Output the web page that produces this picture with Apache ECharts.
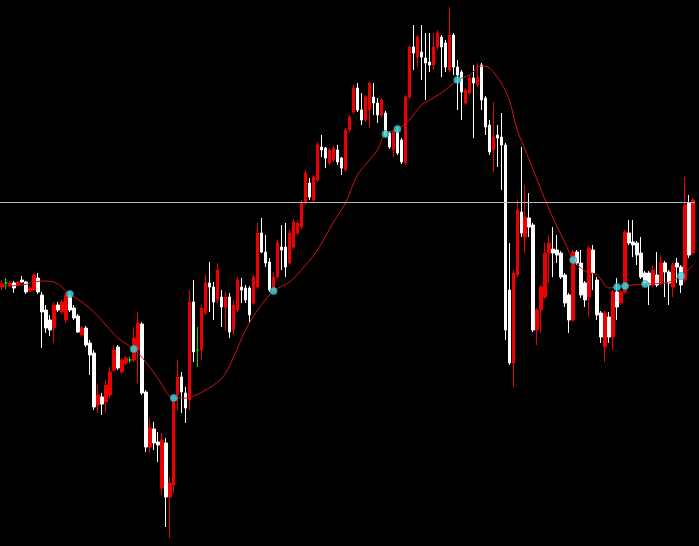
<!DOCTYPE html>
<html>
<head>
<meta charset="utf-8">
<script src="https://cdn.jsdelivr.net/npm/echarts@6/dist/echarts.min.js"></script>
<style>
html,body{margin:0;padding:0;background:#000;}
#chart{width:699px;height:546px;}
</style>
</head>
<body>
<div id="chart"></div>
<script>
const open = [
713,717,715,717,715,720,718,709,710,722,
705,690,680,672,695,688,680,704,692,684,
665,672,657,647,595,603,598,605,630,653,
628,637,640,640,650,676,608,553,571,558,
512,557,503,515,605,623,607,600,698,650,
650,687,717,713,700,703,692,703,670,690,
713,712,712,697,713,767,748,738,710,723,
753,753,737,753,767,773,797,817,800,820,
853,852,837,840,850,842,830,870,888,912,
890,880,890,903,897,885,887,867,850,868,
860,837,903,953,943,948,942,938,935,953,
963,957,930,965,933,928,897,907,922,915,
935,902,875,850,865,863,855,710,637,725,
788,763,782,775,670,690,703,747,751,750,
747,725,705,680,748,737,717,703,750,720,
687,653,683,663,708,697,708,767,758,757,
747,727,727,715,725,717,737,728,713,737,
733,720,797,747];
const close = [
716,717,717,712,718,718,708,712,725,708,
688,672,670,695,690,698,705,690,682,668,
672,655,645,593,605,596,615,628,650,632,
640,642,640,662,677,607,553,572,557,555,
560,503,517,600,623,608,592,698,648,650,
692,717,713,698,730,693,703,668,695,720,
710,700,685,723,767,748,737,710,723,757,
750,733,767,778,777,797,827,803,823,855,
850,842,850,852,838,832,870,883,912,890,
880,903,917,897,885,900,865,853,868,847,
838,903,953,947,963,943,937,935,953,967,
953,933,965,933,925,908,910,922,917,923,
900,873,848,863,862,855,670,637,727,790,
767,783,773,670,690,713,747,757,747,745,
723,697,680,748,737,705,700,752,727,685,
663,687,663,708,693,708,768,757,755,745,
723,717,715,730,715,737,728,717,735,733,
715,795,745,800];
const low = [
710,711,713,707,714,717,706,708,709,706,
652,667,664,657,688,686,677,688,680,667,
663,653,625,590,587,585,587,602,628,630,
626,635,637,638,617,605,548,547,550,538,
505,473,462,507,590,587,577,590,638,633,
640,685,688,680,697,673,670,662,665,688,
697,697,677,695,711,747,733,708,708,721,
730,723,735,751,765,771,795,800,798,818,
843,832,835,838,835,825,828,868,886,888,
875,878,872,885,877,883,863,851,843,845,
836,835,901,930,933,920,900,928,930,950,
923,928,928,925,890,880,895,905,862,913,
890,865,845,828,833,810,660,635,613,723,
763,747,763,668,655,667,701,717,723,737,
721,693,667,678,735,702,693,683,710,680,
657,638,657,650,680,695,706,755,743,735,
721,715,695,713,713,715,703,695,703,717,
707,718,742,745];
const high = [
720,722,719,719,719,724,719,714,726,727,
708,695,685,698,698,700,708,708,695,686,
674,674,660,650,615,607,620,633,655,655,
642,644,643,673,688,678,610,582,578,568,
567,562,523,602,640,628,613,710,720,673,
695,725,738,718,737,710,708,707,700,723,
722,715,714,725,777,782,765,742,728,760,
775,777,770,781,780,800,830,822,825,858,
865,853,852,854,855,843,872,885,915,917,
907,905,918,917,902,902,889,869,870,873,
862,905,955,975,965,975,967,967,967,970,
965,960,993,967,940,930,912,925,935,937,
937,904,880,898,875,887,857,757,730,800,
853,815,807,777,692,715,757,765,773,765,
749,727,707,750,750,750,719,754,755,723,
689,689,688,710,722,710,770,780,780,759,
763,729,729,735,748,745,739,730,737,742,
735,823,805,802];

// moving average at selected bars
const maIdx  = [0,5,10,13,17,20,23,26,29,33,36,39,43,46,48,51,54,56,58,61,64,68,72,76,79,83,86,89,92,94,96,99,102,105,108,111,114,117,120,122,125,127,129,131,134,136,139,141,143,146,149,152,154,156,161,166,170,173];
const maVals = [714,715,719,718,706,698,688,675,662,651,638,622,602,602,604,610,618,627,643,670,690,709,718,735,750,778,797,825,840,850,866,871,880,895,902,910,920,925,934,932,917,900,870,850,820,800,773,757,740,729,725,712,713,714,716,717,724,735];

// signal dots
const signalIdx  = [17,33,43,68,96,99,114,143,154,156,161,170];
const signalVals = [706,651,602,709,866,871,920,740,713,714,716,724];

const bidPrice = 798;

const categories = open.map((_, i) => 'Bar ' + (i + 1));
const candleData = open.map((o, i) => {
  const v = [o, close[i], low[i], high[i]];
  if (o === close[i]) {
    return {value: v, itemStyle: {color: '#00dd00', color0: '#00dd00', borderColor: '#00dd00', borderColor0: '#00dd00', borderColorDoji: '#00dd00'}};
  }
  return v;
});
const maData = categories.map(() => null);
maIdx.forEach((k, j) => { maData[k] = maVals[j]; });
const signalData = signalIdx.map((k, j) => [k, signalVals[j]]);

const chart = echarts.init(document.getElementById('chart'), null, {renderer: 'canvas'});
chart.setOption({
  backgroundColor: '#000000',
  animation: false,
  grid: {left: -1, right: 4, top: 0, bottom: 0, containLabel: false},
  xAxis: {
    type: 'category', data: categories, boundaryGap: true,
    show: false
  },
  yAxis: {
    type: 'value', min: 454, max: 1000, show: false,
    splitLine: {show: false}
  },
  series: [
    {
      type: 'candlestick',
      data: candleData,
      barWidth: 3,
      itemStyle: {
        color: '#ee0000', color0: '#ffffff',
        borderColor: '#ee0000', borderColor0: '#ffffff',
        borderColorDoji: '#00dd00', borderWidth: 1
      },
      markLine: {
        silent: true, symbol: ['none', 'none'],
        label: {show: false},
        lineStyle: {color: '#b4b4c8', width: 1, type: 'solid'},
        data: [{yAxis: bidPrice}]
      },
      z: 2
    },
    {
      type: 'line',
      data: maData,
      connectNulls: true,
      smooth: 0.35,
      showSymbol: false,
      lineStyle: {color: '#d01414', width: 1},
      z: 3
    },
    {
      type: 'scatter',
      data: signalData,
      symbol: 'circle',
      symbolSize: 7,
      itemStyle: {color: '#44dce0', borderColor: '#1fa8b0', borderWidth: 1},
      z: 4
    }
  ]
});
</script>
</body>
</html>
